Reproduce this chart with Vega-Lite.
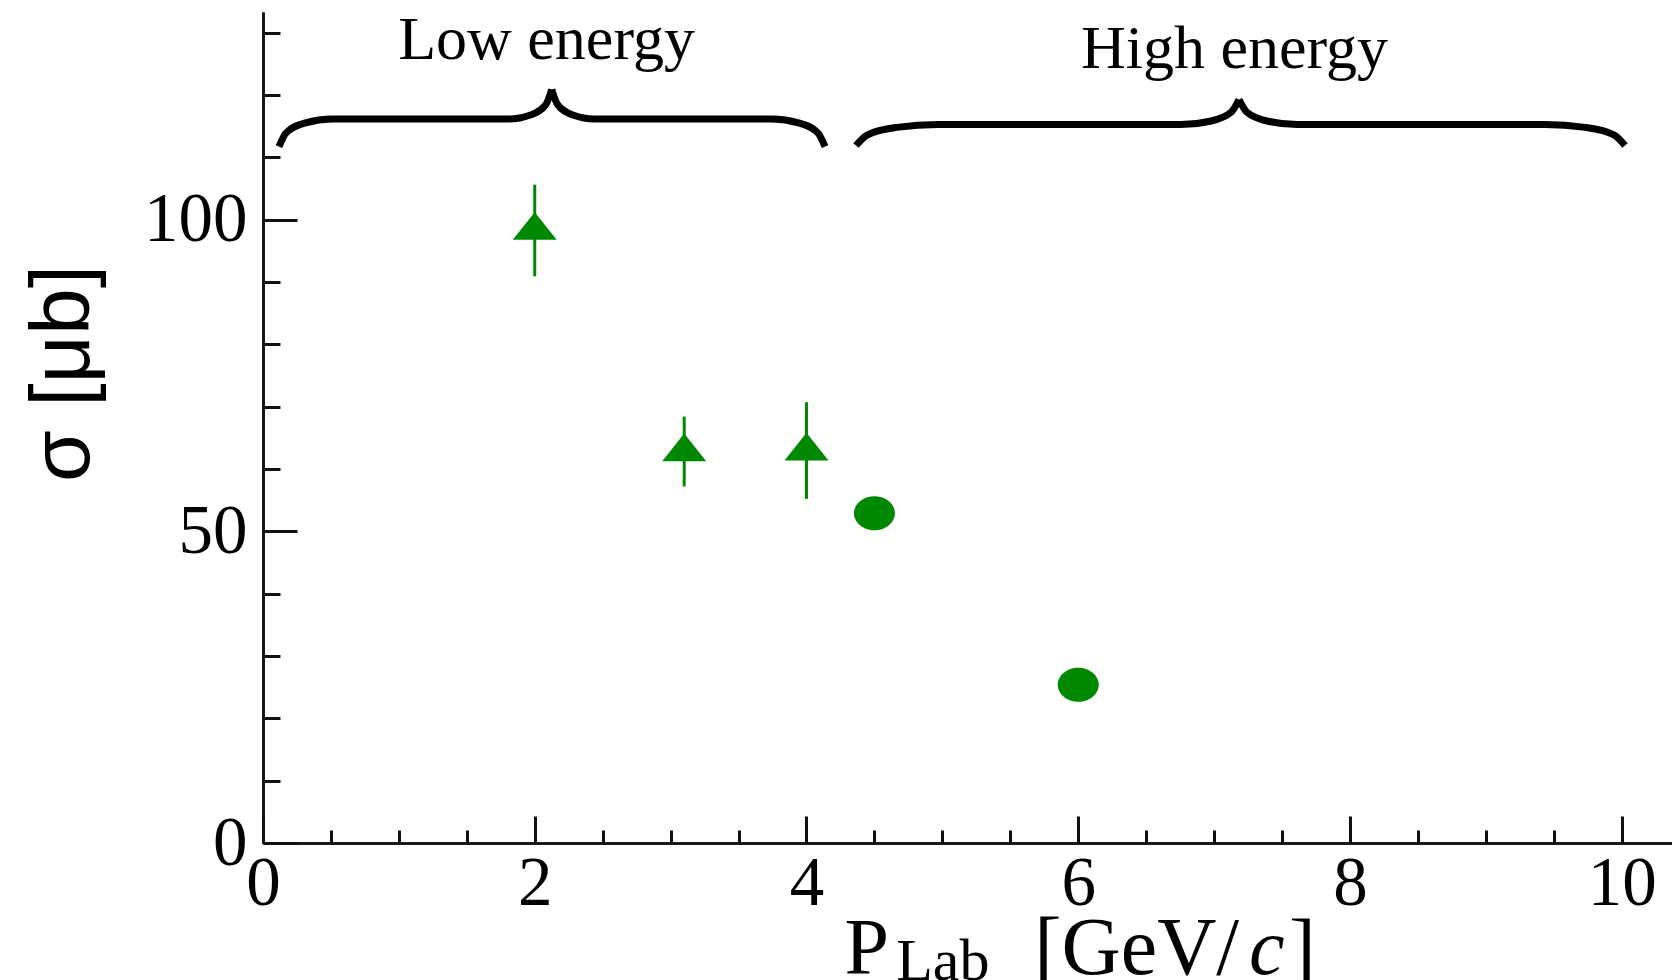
{
  "$schema": "https://vega.github.io/schema/vega-lite/v6.json",
  "width": 1409,
  "height": 831,
  "autosize": {"type": "none"},
  "padding": {"left": 263, "top": 12, "right": 0, "bottom": 137},
  "background": "white",
  "config": {
    "view": {"stroke": null},
    "axis": {
      "grid": false,
      "domainColor": "#111",
      "domainWidth": 2.6,
      "tickColor": "#111",
      "tickWidth": 3,
      "labelFont": "Liberation Serif",
      "labelFontSize": 69,
      "labelColor": "#000",
      "labelFlush": false,
      "labelOverlap": false
    }
  },
  "datasets": {
    "triangles": [
      {"p": 2.0, "sigma": 98.3, "lo": 90.9, "hi": 105.6},
      {"p": 3.1, "sigma": 62.8, "lo": 57.2, "hi": 68.4},
      {"p": 4.0, "sigma": 62.9, "lo": 55.2, "hi": 70.7}
    ],
    "circles": [
      {"p": 4.5, "sigma": 52.9},
      {"p": 6.0, "sigma": 25.4}
    ],
    "braces": [
      {"seg": "low-a", "x": 0.1178, "y": 111.71},
      {"seg": "low-a", "x": 0.1700, "y": 113.92},
      {"seg": "low-a", "x": 0.3128, "y": 115.53},
      {"seg": "low-a", "x": 0.5078, "y": 116.12},
      {"seg": "low-a", "x": 1.8106, "y": 116.12},
      {"seg": "low-a", "x": 1.9680, "y": 116.77},
      {"seg": "low-a", "x": 2.0829, "y": 118.49},
      {"seg": "low-a", "x": 2.1248, "y": 120.86},
      {"seg": "low-b", "x": 2.1248, "y": 120.86},
      {"seg": "low-b", "x": 2.1668, "y": 118.49},
      {"seg": "low-b", "x": 2.2816, "y": 116.77},
      {"seg": "low-b", "x": 2.4391, "y": 116.12},
      {"seg": "low-b", "x": 3.7462, "y": 116.12},
      {"seg": "low-b", "x": 3.9413, "y": 115.53},
      {"seg": "low-b", "x": 4.0840, "y": 113.92},
      {"seg": "low-b", "x": 4.1363, "y": 111.71},
      {"seg": "high-a", "x": 4.3645, "y": 111.87},
      {"seg": "high-a", "x": 4.4454, "y": 113.56},
      {"seg": "high-a", "x": 4.6662, "y": 114.79},
      {"seg": "high-a", "x": 4.9680, "y": 115.24},
      {"seg": "high-a", "x": 6.7565, "y": 115.24},
      {"seg": "high-a", "x": 6.9699, "y": 115.78},
      {"seg": "high-a", "x": 7.1260, "y": 117.25},
      {"seg": "high-a", "x": 7.1834, "y": 119.25},
      {"seg": "high-b", "x": 7.1834, "y": 119.25},
      {"seg": "high-b", "x": 7.2408, "y": 117.25},
      {"seg": "high-b", "x": 7.3968, "y": 115.78},
      {"seg": "high-b", "x": 7.6103, "y": 115.24},
      {"seg": "high-b", "x": 9.4356, "y": 115.24},
      {"seg": "high-b", "x": 9.7300, "y": 114.79},
      {"seg": "high-b", "x": 9.9456, "y": 113.56},
      {"seg": "high-b", "x": 10.0243, "y": 111.87}
    ],
    "braceLabels": [
      {"label": "Low energy", "x": 2.087, "y": 125.7},
      {"label": "High energy", "x": 7.15, "y": 124.3}
    ],
    "xtitle": [
      {"part": "P"},
      {"part": "Lab"},
      {"part": "[GeV/"},
      {"part": "c"},
      {"part": "]"}
    ]
  },
  "layer": [
    {
      "data": {"name": "triangles"},
      "mark": {"type": "rule", "color": "#008800", "strokeWidth": 3},
      "encoding": {
        "x": {"field": "p", "type": "quantitative", "scale": {"domain": [0, 10.37], "nice": false, "zero": false}, "axis": null},
        "y": {"field": "lo", "type": "quantitative", "scale": {"domain": [0, 133.3], "nice": false, "zero": false}, "axis": null},
        "y2": {"field": "hi"}
      }
    },
    {
      "data": {"name": "triangles"},
      "mark": {"type": "point", "shape": "M0,-0.82L1,0.44L-1,0.44Z", "filled": true, "opacity": 1, "size": 1936, "color": "#008800", "strokeWidth": 0},
      "encoding": {
        "x": {"field": "p", "type": "quantitative", "scale": {"domain": [0, 10.37], "nice": false, "zero": false},
          "axis": {"orient": "bottom", "values": [0, 2, 4, 6, 8, 10], "tickSize": -27, "labelPadding": 33, "title": null}},
        "y": {"field": "sigma", "type": "quantitative", "scale": {"domain": [0, 133.3], "nice": false, "zero": false},
          "axis": {"orient": "left", "values": [0, 50, 100], "tickSize": -34, "labelPadding": 50,
            "title": "σ [μb]", "titleFont": "Liberation Sans", "titleFontSize": 84, "titleFontWeight": "normal",
            "titleColor": "#000", "titleX": -175, "titleY": 361, "titleAngle": 270, "titleAlign": "center", "titleBaseline": "alphabetic"}}
      }
    },
    {
      "data": {"name": "circles"},
      "mark": {"type": "point", "shape": "M-1,0A1,0.83,0,1,0,1,0A1,0.83,0,1,0,-1,0Z", "filled": true, "opacity": 1, "size": 1681, "color": "#008800", "strokeWidth": 0},
      "encoding": {
        "x": {"field": "p", "type": "quantitative", "scale": {"domain": [0, 10.37], "nice": false, "zero": false},
          "axis": {"orient": "bottom", "values": [0.5, 1, 1.5, 2.5, 3, 3.5, 4.5, 5, 5.5, 6.5, 7, 7.5, 8.5, 9, 9.5], "tickSize": -13, "labels": false, "title": null}},
        "y": {"field": "sigma", "type": "quantitative", "scale": {"domain": [0, 133.3], "nice": false, "zero": false},
          "axis": {"orient": "left", "values": [10, 20, 30, 40, 60, 70, 80, 90, 110, 120, 130], "tickSize": -17, "labels": false, "title": null}}
      }
    },
    {
      "data": {"name": "braces"},
      "mark": {"type": "line", "interpolate": "monotone", "color": "#000", "strokeWidth": 7},
      "encoding": {
        "x": {"field": "x", "type": "quantitative", "scale": {"domain": [0, 10.37], "nice": false, "zero": false}, "axis": null},
        "y": {"field": "y", "type": "quantitative", "scale": {"domain": [0, 133.3], "nice": false, "zero": false}, "axis": null},
        "detail": {"field": "seg"}
      }
    },
    {
      "data": {"name": "braceLabels"},
      "mark": {"type": "text", "font": "Liberation Serif", "fontSize": 62, "align": "center", "baseline": "alphabetic", "color": "#000"},
      "encoding": {
        "x": {"field": "x", "type": "quantitative", "scale": {"domain": [0, 10.37], "nice": false, "zero": false}, "axis": null},
        "y": {"field": "y", "type": "quantitative", "scale": {"domain": [0, 133.3], "nice": false, "zero": false}, "axis": null},
        "text": {"field": "label"}
      }
    },
    {
      "data": {"name": "xtitle"},
      "transform": [{"filter": "datum.part === 'P'"}],
      "mark": {"type": "text", "font": "Liberation Serif", "fontSize": 80, "align": "left", "baseline": "alphabetic", "color": "#000"},
      "encoding": {
        "x": {"datum": 4.28, "type": "quantitative", "scale": {"domain": [0, 10.37], "nice": false, "zero": false}, "axis": null},
        "y": {"datum": -20.96, "type": "quantitative", "scale": {"domain": [0, 133.3], "nice": false, "zero": false}, "axis": null},
        "text": {"field": "part"}
      }
    },
    {
      "data": {"name": "xtitle"},
      "transform": [{"filter": "datum.part === 'Lab'"}],
      "mark": {"type": "text", "font": "Liberation Serif", "fontSize": 60, "align": "left", "baseline": "alphabetic", "color": "#000"},
      "encoding": {
        "x": {"datum": 4.66, "type": "quantitative", "scale": {"domain": [0, 10.37], "nice": false, "zero": false}, "axis": null},
        "y": {"datum": -22.0, "type": "quantitative", "scale": {"domain": [0, 133.3], "nice": false, "zero": false}, "axis": null},
        "text": {"field": "part"}
      }
    },
    {
      "data": {"name": "xtitle"},
      "transform": [{"filter": "datum.part === '[GeV/'"}],
      "mark": {"type": "text", "font": "Liberation Serif", "fontSize": 82, "align": "center", "baseline": "alphabetic", "color": "#000"},
      "encoding": {
        "x": {"datum": 6.43, "type": "quantitative", "scale": {"domain": [0, 10.37], "nice": false, "zero": false}, "axis": null},
        "y": {"datum": -20.96, "type": "quantitative", "scale": {"domain": [0, 133.3], "nice": false, "zero": false}, "axis": null},
        "text": {"field": "part"}
      }
    },
    {
      "data": {"name": "xtitle"},
      "transform": [{"filter": "datum.part === 'c'"}],
      "mark": {"type": "text", "font": "Liberation Serif", "fontSize": 80, "fontStyle": "italic", "align": "left", "baseline": "alphabetic", "color": "#000"},
      "encoding": {
        "x": {"datum": 7.257, "type": "quantitative", "scale": {"domain": [0, 10.37], "nice": false, "zero": false}, "axis": null},
        "y": {"datum": -20.96, "type": "quantitative", "scale": {"domain": [0, 133.3], "nice": false, "zero": false}, "axis": null},
        "text": {"field": "part"}
      }
    },
    {
      "data": {"name": "xtitle"},
      "transform": [{"filter": "datum.part === ']'"}],
      "mark": {"type": "text", "font": "Liberation Serif", "fontSize": 80, "align": "left", "baseline": "alphabetic", "color": "#000"},
      "encoding": {
        "x": {"datum": 7.552, "type": "quantitative", "scale": {"domain": [0, 10.37], "nice": false, "zero": false}, "axis": null},
        "y": {"datum": -20.96, "type": "quantitative", "scale": {"domain": [0, 133.3], "nice": false, "zero": false}, "axis": null},
        "text": {"field": "part"}
      }
    }
  ],
  "resolve": {"axis": {"x": "independent", "y": "independent"}}
}
